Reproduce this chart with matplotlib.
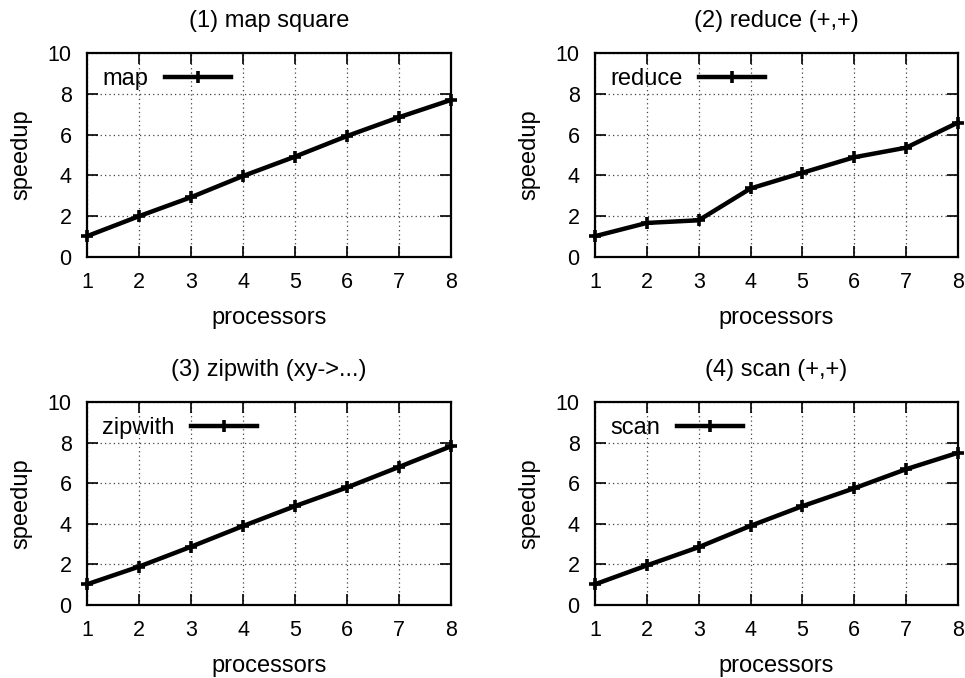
import matplotlib
matplotlib.use("Agg")
import matplotlib.pyplot as plt

plt.rcParams['font.family'] = ['Liberation Sans', 'DejaVu Sans']

processors = [1, 2, 3, 4, 5, 6, 7, 8]
map_speedup = [1.02, 2.0, 2.93, 3.97, 4.92, 5.93, 6.85, 7.7]
reduce_speedup = [1.02, 1.67, 1.8, 3.36, 4.13, 4.89, 5.36, 6.59]
zipwith_speedup = [1.02, 1.89, 2.87, 3.89, 4.87, 5.79, 6.8, 7.82]
scan_speedup = [1.02, 1.95, 2.85, 3.9, 4.87, 5.75, 6.69, 7.5]

titles = ["(1) map square", "(2) reduce (+,+)", "(3) zipwith (xy->...)", "(4) scan (+,+)"]
labels = ["map", "reduce", "zipwith", "scan"]
series = [map_speedup, reduce_speedup, zipwith_speedup, scan_speedup]
yticks = [0, 2, 4, 6, 8, 10]

fig = plt.figure(figsize=(9.65, 6.78), dpi=100)
W, H = 965, 678
boxes = [(87, 451, 53, 257), (595, 958, 53, 257), (87, 451, 402, 605), (595, 958, 402, 605)]

fs = 17
tfs = 15.5
for (l, r, t, b), title, lab, ys in zip(boxes, titles, labels, series):
    ax = fig.add_axes([l / W, (H - b) / H, (r - l) / W, (b - t) / H])
    ax.plot(processors, ys, color='black', lw=3.2, marker='+', ms=8, mew=2.6,
            label=lab, clip_on=False, zorder=5)
    ax.set_xlim(1, 8)
    ax.set_ylim(0, 10)
    ax.set_xticks(processors)
    ax.set_yticks(yticks)
    ax.grid(True, linestyle=(0, (1, 2.5)), color='#444444', lw=0.9)
    ax.tick_params(direction='in', length=8, width=1.2, top=True, right=True,
                   labelsize=tfs, pad=11)
    for sp in ax.spines.values():
        sp.set_linewidth(1.6)
    ax.set_title(title, fontsize=fs, pad=19)
    ax.set_xlabel("processors", fontsize=fs, labelpad=10)
    ax.set_ylabel("speedup", fontsize=fs, labelpad=11)
    leg = ax.legend(loc='upper left', frameon=False, markerfirst=False,
                    fontsize=fs, handlelength=2.8, handletextpad=0.7,
                    borderaxespad=0.35, borderpad=0.3)

fig.savefig("out.png", dpi=100)
